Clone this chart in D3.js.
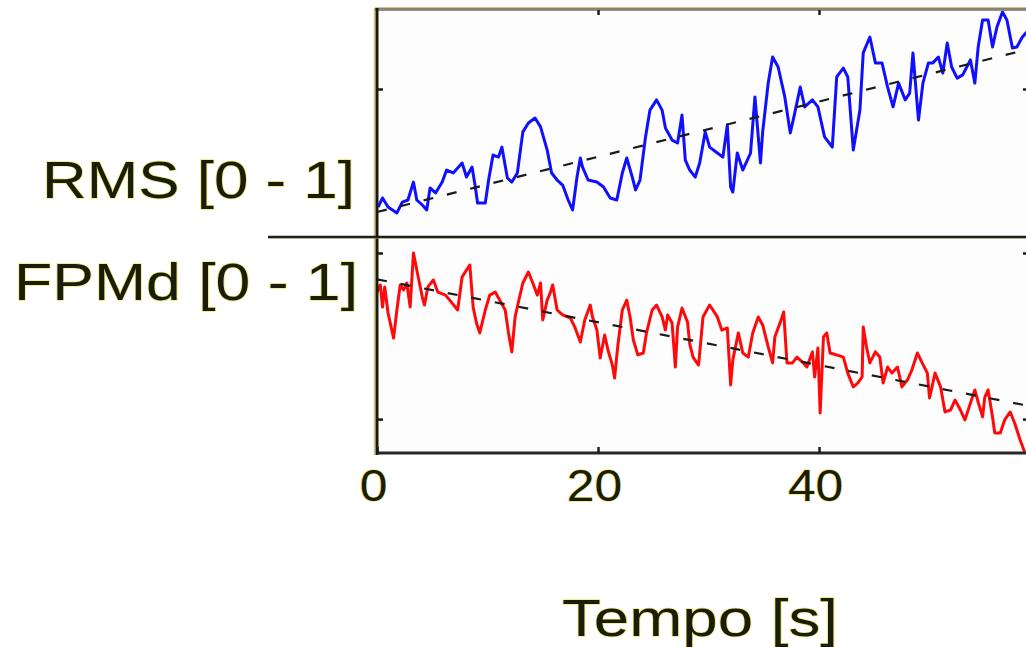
<!DOCTYPE html>
<html><head><meta charset="utf-8">
<script src="https://cdn.jsdelivr.net/npm/d3@7"></script>
<style>html,body{margin:0;padding:0;background:#fff;overflow:hidden}</style>
</head><body><svg id="c" width="1026" height="647"></svg>
<script>
// ---------- data ----------
const xTicks = [0, 20, 40];
const rmsTicks = [0.652];
const fpmTicks = [0.157, 0.926];
const rmsLabel = "RMS [0 - 1]";
const fpmLabel = "FPMd [0 - 1]";
const xLabel = "Tempo [s]";

const rmsT = [0.1,0.5,1.0,1.8,2.3,2.8,3.3,3.6,4.1,4.5,4.8,5.3,5.9,6.3,6.9,7.7,8.1,8.6,8.9,9.1,9.8,10.1,10.5,11.0,11.3,11.8,12.2,12.7,13.2,13.7,14.3,14.8,15.4,15.8,16.3,16.8,17.3,17.7,18.1,18.4,18.6,19.1,19.9,20.5,21.1,21.7,22.2,22.6,23.1,23.4,23.8,24.3,24.7,25.3,25.8,26.1,26.7,27.2,27.6,27.9,28.3,28.8,29.2,29.7,30.1,30.8,31.3,31.7,32.0,32.2,32.6,33.1,33.8,34.2,34.7,34.9,35.4,35.8,36.3,36.9,37.4,37.8,38.3,38.7,39.4,39.9,40.5,41.2,41.6,42.2,42.6,43.1,43.7,44.0,44.6,45.1,45.7,46.2,46.7,47.2,47.8,48.2,48.5,49.0,49.4,49.9,50.3,50.8,51.2,51.6,52.0,52.5,53.0,53.7,54.1,54.4,54.8,55.3,55.7,56.1,56.6,57.0,57.5,57.9,58.4,58.8];
const rmsV = [0.132,0.172,0.132,0.106,0.154,0.163,0.242,0.163,0.141,0.119,0.216,0.194,0.242,0.295,0.282,0.326,0.264,0.308,0.220,0.150,0.150,0.251,0.361,0.352,0.396,0.260,0.242,0.282,0.463,0.502,0.524,0.485,0.383,0.282,0.251,0.229,0.163,0.119,0.264,0.348,0.308,0.251,0.242,0.220,0.172,0.163,0.282,0.348,0.264,0.207,0.251,0.441,0.559,0.604,0.559,0.480,0.427,0.414,0.537,0.339,0.295,0.264,0.326,0.463,0.396,0.370,0.352,0.493,0.220,0.198,0.370,0.295,0.370,0.617,0.326,0.463,0.678,0.793,0.749,0.617,0.458,0.546,0.661,0.573,0.604,0.573,0.441,0.396,0.705,0.744,0.705,0.383,0.559,0.811,0.881,0.767,0.767,0.661,0.573,0.678,0.604,0.634,0.811,0.515,0.678,0.767,0.767,0.793,0.722,0.855,0.749,0.700,0.714,0.780,0.678,0.837,0.956,0.956,0.837,0.925,0.991,0.956,0.833,0.837,0.881,0.903];

const fpmT = [0.0,0.3,0.5,0.7,1.0,1.5,1.8,2.1,2.4,2.7,3.0,3.3,3.6,4.1,4.3,4.6,5.1,5.5,6.2,6.8,7.3,7.7,8.1,8.4,8.7,9.0,9.3,9.8,10.2,10.7,11.1,11.6,11.9,12.2,12.5,12.9,13.2,13.7,14.1,14.5,14.8,15.0,15.4,15.7,15.9,16.3,16.8,17.5,17.9,18.4,18.8,19.3,19.5,19.9,20.2,20.6,20.9,21.3,21.5,21.8,22.2,22.6,22.9,23.2,23.6,24.1,24.4,24.9,25.3,25.8,26.1,26.3,26.7,27.0,27.2,27.6,28.1,28.3,28.6,29.1,29.5,30.1,30.8,31.2,31.7,32.0,32.2,32.7,33.1,33.6,34.0,34.5,34.9,35.4,35.8,36.0,36.5,36.8,37.1,37.6,38.0,38.5,38.9,39.4,39.6,39.9,40.1,40.4,40.7,41.0,41.6,42.2,42.6,43.1,43.5,43.9,44.0,44.3,44.6,45.1,45.5,45.8,46.2,46.6,47.1,47.5,48.0,48.4,48.9,49.3,49.8,50.0,50.5,51.0,51.4,51.9,52.3,52.8,53.2,53.7,54.1,54.4,54.8,55.0,55.3,55.7,55.9,56.4,56.8,57.3,57.7,58.2,58.6];
const fpmV = [0.745,0.778,0.676,0.769,0.648,0.532,0.662,0.778,0.755,0.787,0.676,0.926,0.847,0.722,0.685,0.769,0.801,0.745,0.731,0.694,0.662,0.815,0.847,0.870,0.676,0.602,0.556,0.662,0.731,0.745,0.708,0.662,0.556,0.468,0.630,0.722,0.787,0.838,0.787,0.731,0.787,0.616,0.708,0.745,0.778,0.662,0.639,0.625,0.583,0.514,0.616,0.685,0.630,0.569,0.440,0.546,0.477,0.407,0.347,0.500,0.662,0.708,0.630,0.523,0.454,0.463,0.560,0.662,0.685,0.630,0.569,0.639,0.602,0.398,0.583,0.671,0.606,0.505,0.444,0.407,0.630,0.685,0.630,0.569,0.579,0.315,0.431,0.556,0.463,0.444,0.556,0.630,0.593,0.491,0.417,0.537,0.606,0.653,0.417,0.417,0.444,0.421,0.398,0.468,0.352,0.486,0.185,0.537,0.556,0.463,0.454,0.444,0.370,0.306,0.324,0.352,0.583,0.491,0.417,0.468,0.444,0.324,0.398,0.370,0.398,0.306,0.338,0.384,0.463,0.421,0.370,0.255,0.370,0.306,0.190,0.199,0.245,0.199,0.153,0.231,0.292,0.236,0.167,0.259,0.292,0.167,0.093,0.093,0.153,0.190,0.139,0.060,0.005];

const rmsTrendT = [0, 59], rmsTrendV = [0.110, 0.828];
const fpmTrendT = [0, 59], fpmTrendV = [0.804, 0.218];

// ---------- layout ----------
const svg = d3.select("#c");
const L = 377, R = 1029, T = 10, MID = 237, B = 453;
const x = d3.scaleLinear([0, 59], [L, R]);
const yTop = d3.scaleLinear([0, 1], [MID, T]);
const yBot = d3.scaleLinear([0, 1], [B, MID]);

const textStyle = s => s.attr("font-family", "'Liberation Sans', Arial, sans-serif")
  .attr("fill", "#1c1c0c").attr("stroke", "#e8e65c").attr("stroke-width", 1.4)
  .attr("stroke-opacity", 0.85).attr("paint-order", "stroke").attr("stroke-linejoin", "round");

// panel background
svg.append("rect").attr("x", L).attr("y", T).attr("width", R - L).attr("height", B - T).attr("fill", "#fdfdfd");

// series
function drawSeries(tArr, vArr, y, color, width, dash) {
  const idx = d3.range(tArr.length);
  const line = d3.line().x(i => x(tArr[i])).y(i => y(vArr[i]));
  const p = svg.append("path").datum(idx).attr("d", line).attr("fill", "none")
    .attr("stroke", color).attr("stroke-width", width).attr("stroke-linejoin", "round");
  if (dash) p.attr("stroke-dasharray", dash);
}
drawSeries(rmsT, rmsV, yTop, "#1010ff", 3);
drawSeries(fpmT, fpmV, yBot, "#ff0a0a", 3);
drawSeries(rmsTrendT, rmsTrendV, yTop, "#1a1a1a", 2.2, "10,14");
drawSeries(fpmTrendT, fpmTrendV, yBot, "#1a1a1a", 2.2, "10,14");

// frame
const frame = svg.append("g").attr("fill", "none");
frame.append("line").attr("x1", L - 2).attr("x2", R).attr("y1", T - 1.5).attr("y2", T - 1.5).attr("stroke", "#8a8748").attr("stroke-width", 2);
frame.append("line").attr("x1", L - 2).attr("x2", R).attr("y1", T).attr("y2", T).attr("stroke", "#707070").attr("stroke-width", 1.5);
frame.append("line").attr("x1", L - 2.5).attr("x2", L - 2.5).attr("y1", T - 2).attr("y2", B + 2).attr("stroke", "#cfcb6a").attr("stroke-width", 1.5);
frame.append("line").attr("x1", L).attr("x2", L).attr("y1", T - 2).attr("y2", B + 2).attr("stroke", "#1a1a1a").attr("stroke-width", 3);
frame.append("line").attr("x1", L).attr("x2", R).attr("y1", B).attr("y2", B).attr("stroke", "#262626").attr("stroke-width", 3);
frame.append("line").attr("x1", 268).attr("x2", R).attr("y1", MID + 1).attr("y2", MID + 1).attr("stroke", "#d8d470").attr("stroke-width", 1.2);
frame.append("line").attr("x1", 268).attr("x2", R).attr("y1", MID).attr("y2", MID).attr("stroke", "#1f1f1f").attr("stroke-width", 2.5);
frame.append("line").attr("x1", R).attr("x2", R).attr("y1", T).attr("y2", B).attr("stroke", "#1a1a1a").attr("stroke-width", 3);

// axes
function styleAxis(g) {
  g.select(".domain").remove();
  g.selectAll(".tick line").attr("stroke", "#1a1a1a").attr("stroke-width", 2.5);
}
svg.append("g").attr("transform", `translate(${L},0)`)
  .call(d3.axisLeft(yTop).tickValues(rmsTicks).tickSize(-6).tickFormat("")).call(styleAxis);
svg.append("g").attr("transform", `translate(${L},0)`)
  .call(d3.axisLeft(yBot).tickValues(fpmTicks).tickSize(-6).tickFormat("")).call(styleAxis);
svg.append("g").attr("transform", `translate(${R},0)`)
  .call(d3.axisRight(yTop).tickValues(rmsTicks).tickSize(-6).tickFormat("")).call(styleAxis);
svg.append("g").attr("transform", `translate(${R},0)`)
  .call(d3.axisRight(yBot).tickValues(fpmTicks).tickSize(-6).tickFormat("")).call(styleAxis);
svg.append("g").attr("transform", `translate(0,${T})`)
  .call(d3.axisTop(x).tickValues(xTicks.slice(1)).tickSize(-5).tickFormat("")).call(styleAxis);

const xAxis = svg.append("g").attr("transform", `translate(0,${B})`)
  .call(d3.axisBottom(x).tickValues(xTicks).tickSizeInner(-6).tickSizeOuter(0).tickPadding(17).tickFormat(d3.format("d")))
  .call(styleAxis);
xAxis.selectAll(".tick text").attr("font-size", 44).attr("dx", -4).call(textStyle)
  .each(function () { const w = this.getComputedTextLength(); d3.select(this).attr("textLength", w * 1.13).attr("lengthAdjust", "spacingAndGlyphs"); });

// labels
function label(txt, xr, yb, len, anchor) {
  svg.append("text").attr("x", xr).attr("y", yb).attr("text-anchor", anchor).attr("font-size", 52)
    .attr("textLength", len).attr("lengthAdjust", "spacingAndGlyphs").text(txt).call(textStyle);
}
label(rmsLabel, 355, 198, 313, "end");
label(fpmLabel, 358, 300, 344, "end");
label(xLabel, 700, 636, 276, "middle");
</script></body></html>
